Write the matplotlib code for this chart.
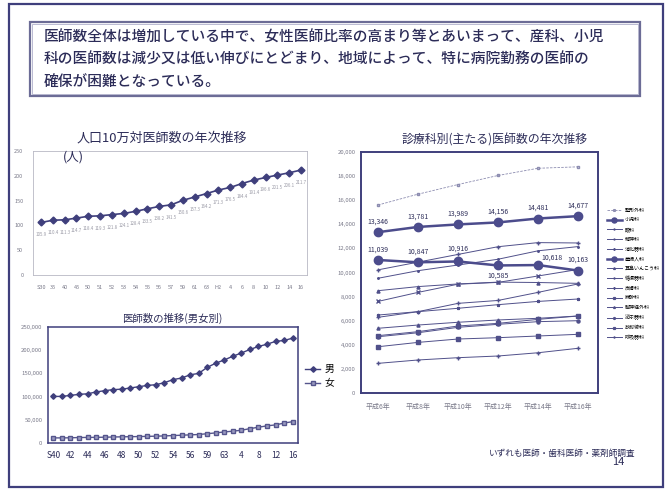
import matplotlib
matplotlib.use('Agg')
import matplotlib.pyplot as plt
from matplotlib.patches import Rectangle

plt.rcParams['font.family'] = ['Noto Sans CJK JP', 'DejaVu Sans']

# ---- data ----
headline = ['医師数全体は増加している中で、女性医師比率の高まり等とあいまって、産科、小児',
            '科の医師数は減少又は低い伸びにとどまり、地域によって、特に病院勤務の医師の',
            '確保が困難となっている。']

# 人口10万対医師数
years_rate = ['S30', '35', '40', '45', '50', '51', '52', '53', '54', '55', '56', '57',
              '59', '61', '63', 'H2', '4', '6', '8', '10', '12', '14', '16']
rate = [105.9, 110.4, 111.3, 114.7, 118.4, 119.3, 121.8, 124.1, 128.4, 133.5, 138.2, 141.5,
        150.6, 157.3, 164.2, 171.3, 176.5, 184.4, 191.4, 196.6, 201.5, 206.1, 211.7]

# 医師数の推移(男女別)
years_sex = ['S40', '41', '42', '43', '44', '45', '46', '47', '48', '49', '50', '51', '52',
             '53', '54', '55', '56', '57', '59', '61', '63', '2', '4', '6', '8', '10',
             '12', '14', '16']
male = [100400, 100400, 102600, 104800, 106000, 110000, 112700, 115000, 116000, 118500,
        121400, 124000, 125700, 130000, 136600, 140000, 147000, 150000, 163000, 172000,
        179000, 187000, 194000, 201600, 208000, 213000, 219000, 221000, 226000]
female = [11000, 11000, 11200, 11800, 12000, 12200, 12500, 12900, 13300, 13600, 13900,
          14300, 14700, 15300, 16000, 16800, 17500, 18300, 20000, 21800, 23800, 25500,
          27500, 31000, 34000, 37000, 39000, 43000, 46000]

# 診療科別(主たる)医師数
years_dept = ['平成6年', '平成8年', '平成10年', '平成12年', '平成14年', '平成16年']
depts = ['整形外科', '小児科', '眼科', '精神科', '消化器科', '産婦人科', '耳鼻いんこう科',
         '循環器科', '皮膚科', '麻酔科', '脳神経外科', '泌尿器科', '放射線科', '呼吸器科']
dept_values = [
    [15600, 16500, 17300, 18050, 18650, 18770],
    [13346, 13781, 13989, 14156, 14481, 14677],
    [10220, 10860, 11500, 12140, 12480, 12450],
    [9520, 10150, 10620, 11100, 11800, 12150],
    [7600, 8350, 9030, 9180, 9710, 10250],
    [11039, 10847, 10916, 10585, 10618, 10163],
    [8490, 8830, 9050, 9200, 9170, 9100],
    [6280, 6750, 7440, 7680, 8350, 9050],
    [6470, 6750, 7030, 7330, 7600, 7800],
    [4760, 5090, 5560, 5780, 6110, 6390],
    [5370, 5640, 5870, 6060, 6200, 6390],
    [4670, 5000, 5450, 5700, 5920, 6000],
    [3840, 4200, 4480, 4590, 4730, 4870],
    [2460, 2740, 2930, 3070, 3340, 3710],
]

W, H = 670, 491
NAVY = '#3f3f7c'
TEXT = '#2c2c58'
GREY = '#7a7a8a'


def box(l, t, r, b):
    return [l / W, 1 - b / H, (r - l) / W, (b - t) / H]


def fx(x):
    return x / W


def fy(y):
    return 1 - y / H


fig = plt.figure(figsize=(6.7, 4.91), dpi=100)
fig.patch.set_facecolor('white')

# slide frame and headline box
fig.add_artist(Rectangle((fx(9), fy(487)), 654 / W, 483 / H, transform=fig.transFigure,
                         fill=False, ec=NAVY, lw=1.6))
fig.add_artist(Rectangle((fx(30), fy(96)), 610 / W, 74 / H, transform=fig.transFigure,
                         fill=False, ec='#6c6c96', lw=1.6))
fig.add_artist(Rectangle((fx(32), fy(94)), 606 / W, 70 / H, transform=fig.transFigure,
                         fill=False, ec='#a0a0c0', lw=0.5))
for i, line in enumerate(headline):
    fig.text(fx(44), fy(38 + 22 * i), line, fontsize=10.6, color=TEXT, va='center',
             fontweight='medium')

# ---- 人口10万対医師数 ----
ax1 = fig.add_axes(box(33, 151, 307, 275))
x1 = range(len(rate))
ax1.plot(x1, rate, color=NAVY, lw=1.2, marker='D', ms=3.5)
for i, v in enumerate(rate):
    ax1.annotate(f'{v:.1f}', (i, v), xytext=(0, -9), textcoords='offset points',
                 ha='center', va='center', fontsize=3.2, color='#9a9aa6')
ax1.set_xlim(-0.68, 22.5)
ax1.set_ylim(0, 250)
ax1.set_yticks(range(0, 251, 50))
ax1.set_xticks(list(x1))
ax1.set_xticklabels(years_rate)
ax1.tick_params(labelsize=4, colors=GREY, length=0, pad=7)
for s in ax1.spines.values():
    s.set_color('#b8b8c4')
    s.set_linewidth(0.6)
ax1.text(0.11, 0.95, '(人)', transform=ax1.transAxes, fontsize=9, color=TEXT, va='center')
fig.text(fx(162), fy(138), '人口10万対医師数の年次推移', fontsize=9.4, color=TEXT,
         ha='center', va='center')

# ---- 医師数の推移(男女別) ----
ax2 = fig.add_axes(box(48, 327, 298, 443))
x2 = range(len(male))
ax2.plot(x2, male, color=NAVY, lw=1.0, marker='D', ms=2.8, label='男')
ax2.plot(x2, female, color='#55558c', lw=1.0, marker='s', ms=2.6, mfc='#9a9ac0', label='女')
ax2.set_xlim(-0.62, 28.62)
ax2.set_ylim(0, 250000)
ax2.set_yticks(range(0, 250001, 50000))
ax2.set_yticklabels(['0'] + [f'{v:,}' for v in range(50000, 250001, 50000)])
ax2.set_xticks(list(x2)[::2])
ax2.set_xticklabels(years_sex[::2])
ax2.tick_params(axis='y', labelsize=4.3, colors=GREY, length=0, pad=4)
ax2.tick_params(axis='x', labelsize=6, colors=TEXT, length=0, pad=6)
for s in ax2.spines.values():
    s.set_color(NAVY)
    s.set_linewidth(1.1)
ax2.legend(loc='center left', bbox_to_anchor=(fx(300), fy(376)), bbox_transform=fig.transFigure,
           frameon=False, fontsize=7, handlelength=1.6, labelspacing=0.4, borderpad=0,
           handletextpad=0.4)
fig.text(fx(172), fy(318), '医師数の推移(男女別)', fontsize=7.5, color=TEXT,
         ha='center', va='center')

# ---- 診療科別(主たる)医師数 ----
ax3 = fig.add_axes(box(361, 152, 598, 393))
x3 = range(len(years_dept))
small_markers = ['+', '.', 'x', '^', '+', '*', 's', '^', 'o', 's', '+', '.']
k = 0
for name, vals in zip(depts, dept_values):
    if name == '整形外科':
        ax3.plot(x3, vals, color='#8c8cb0', lw=0.6, ls=(0, (3, 1.5)), marker='s', ms=2,
                 mfc='none', label=name)
    elif name in ('小児科', '産婦人科'):
        ax3.plot(x3, vals, color='#4c4c8c', lw=1.8, marker='o', ms=6, label=name)
    else:
        ax3.plot(x3, vals, color='#50508a', lw=0.7, marker=small_markers[k], ms=2.2,
                 label=name)
        k += 1

for i, v in enumerate(dept_values[1]):
    ax3.annotate(f'{v:,}', (i, v), xytext=(0, 7.5), textcoords='offset points',
                 ha='center', va='center', fontsize=5, color=TEXT)
obst_offsets = [(0, 7.5), (0, 8), (0, 9), (0, -7), (10, 5.5), (0, 7.5)]
for i, v in enumerate(dept_values[5]):
    ax3.annotate(f'{v:,}', (i, v), xytext=obst_offsets[i], textcoords='offset points',
                 ha='center', va='center', fontsize=5, color=TEXT)

ax3.set_xlim(-0.425, 5.5)
ax3.set_ylim(0, 20000)
ax3.set_yticks(range(0, 20001, 2000))
ax3.set_yticklabels([f'{v:,}' for v in range(0, 20001, 2000)])
ax3.set_xticks(list(x3))
ax3.set_xticklabels(years_dept)
ax3.tick_params(axis='y', labelsize=4.3, colors=GREY, length=0, pad=4)
ax3.tick_params(axis='x', labelsize=5, colors=GREY, length=0, pad=7)
for s in ax3.spines.values():
    s.set_color(NAVY)
    s.set_linewidth(1.4)
ax3.legend(loc='upper left', bbox_to_anchor=(fx(604), fy(205)), bbox_transform=fig.transFigure,
           frameon=False, fontsize=3.6, handlelength=3, labelspacing=0.95, borderpad=0,
           handletextpad=0.6, markerscale=0.6)
fig.text(fx(495), fy(140), '診療科別(主たる)医師数の年次推移', fontsize=8.6, color=TEXT,
         ha='center', va='center')

fig.text(fx(562), fy(453), 'いずれも医師・歯科医師・薬剤師調査', fontsize=6.2, color=TEXT,
         ha='center', va='center')
fig.text(fx(618), fy(462), '14', fontsize=8, color=TEXT, ha='center', va='center')

fig.savefig('out.png', dpi=100, facecolor='white')
